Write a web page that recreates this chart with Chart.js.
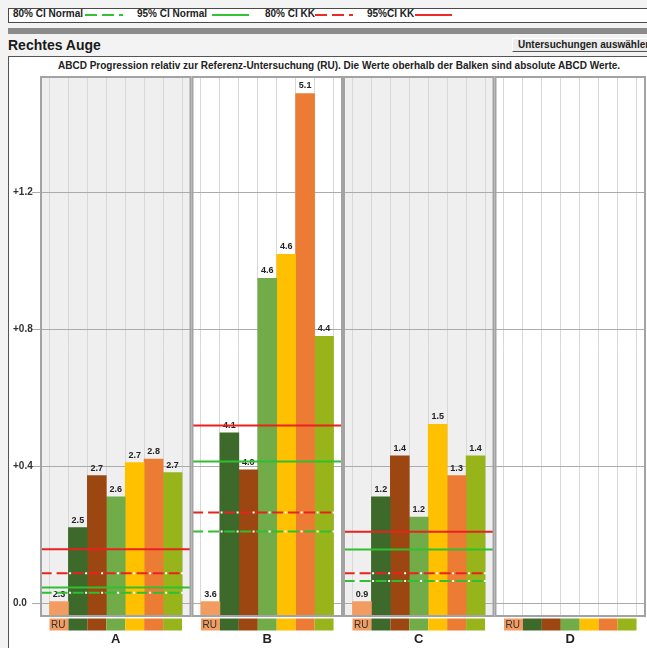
<!DOCTYPE html>
<html>
<head>
<meta charset="utf-8">
<title>Rechtes Auge</title>
<script src="https://cdn.jsdelivr.net/npm/chart.js@4.4.1/dist/chart.umd.min.js"></script>
<style>
  body { margin: 0; width: 647px; height: 648px; overflow: hidden; position: relative;
         background: #f3f3f3; font-family: 'Liberation Sans', Arial, sans-serif; color: #1a1a1a; }
  .abs { position: absolute; }
  #legendBox { left: 8px; top: 8px; width: 700px; height: 13px; border: 1px solid #4a4a4a; border-right: none; background: #fff; }
  .lg { position: absolute; top: 9px; font-size: 10px; font-weight: bold; line-height: 10px; white-space: nowrap; color: #222; }
  .lgLine { position: absolute; top: 13px; }
  #band { left: 8px; top: 28px; width: 639px; height: 6px; background: #8b8b8b; }
  #title { left: 8px; top: 38px; font-size: 14px; font-weight: bold; line-height: 14px; }
  #btn { left: 512px; top: 38px; width: 150px; height: 12px; background: #ececec; border-top: 1px solid #fff;
         border-left: 1px solid #fff; border-bottom: 1px solid #555; font-size: 10px; font-weight: bold; line-height: 12px;
         padding-left: 5px; white-space: nowrap; color: #222; }
  #frame { left: 8px; top: 56px; width: 660px; height: 620px; border-top: 1px solid #555; border-left: 1px solid #555; background: #fff; }
  #subtitle { left: 58px; top: 61px; font-size: 10px; font-weight: bold; line-height: 10px; white-space: nowrap; color: #222; }
  #chartBox { left: 9px; top: 72px; width: 638px; height: 576px; }
</style>
</head>
<body>
<div id="legendBox" class="abs"></div>
<span class="lg" style="left:13px">80% CI Normal</span>
<svg class="lgLine" style="left:85px" width="38" height="4"><line x1="0" y1="2" x2="38" y2="2" stroke="#33c433" stroke-width="2" stroke-dasharray="12 5"/></svg>
<span class="lg" style="left:137px">95% CI Normal</span>
<svg class="lgLine" style="left:212px" width="37" height="4"><line x1="0" y1="2" x2="37" y2="2" stroke="#33c433" stroke-width="2"/></svg>
<span class="lg" style="left:265px">80% CI KK</span>
<svg class="lgLine" style="left:315px" width="38" height="4"><line x1="0" y1="2" x2="38" y2="2" stroke="#ee2a24" stroke-width="2" stroke-dasharray="12 5"/></svg>
<span class="lg" style="left:367px">95%CI KK</span>
<svg class="lgLine" style="left:415px" width="37" height="4"><line x1="0" y1="2" x2="37" y2="2" stroke="#ee2a24" stroke-width="2"/></svg>

<div id="band" class="abs"></div>
<div id="title" class="abs">Rechtes Auge</div>
<div id="btn" class="abs">Untersuchungen auswählen</div>
<div id="frame" class="abs"></div>
<div id="subtitle" class="abs">ABCD Progression relativ zur Referenz-Untersuchung (RU). Die Werte oberhalb der Balken sind absolute ABCD Werte.</div>
<div id="chartBox" class="abs"><canvas id="abcdChart" width="638" height="576"></canvas></div>

<script>
// Kategorien (Panels)
const categories = ['A', 'B', 'C', 'D'];
const seriesLabels = ['RU', 'U1', 'U2', 'U3', 'U4', 'U5', 'U6'];
const seriesColors = ['#f29c62', '#3d6a2b', '#9c4712', '#71ac48', '#ffc000', '#ec7c34', '#97b41b'];

// Progression relativ zur RU (Balkenhöhe)
const ruValues = [0.005, 0.005, 0.005, null];
const u1Values = [0.221, 0.498, 0.311, null];
const u2Values = [0.373, 0.390, 0.431, null];
const u3Values = [0.311, 0.949, 0.252, null];
const u4Values = [0.411, 1.019, 0.523, null];
const u5Values = [0.421, 1.489, 0.373, null];
const u6Values = [0.382, 0.780, 0.431, null];

// absolute ABCD Werte (über den Balken)
const ruAbsolute = ['2.3', '3.6', '0.9', null];
const u1Absolute = ['2.5', '4.1', '1.2', null];
const u2Absolute = ['2.7', '4.0', '1.4', null];
const u3Absolute = ['2.6', '4.6', '1.2', null];
const u4Absolute = ['2.7', '4.6', '1.5', null];
const u5Absolute = ['2.8', '5.1', '1.3', null];
const u6Absolute = ['2.7', '4.4', '1.4', null];

// Konfidenzintervalle je Panel
const ci80Normal = [0.031, 0.210, 0.065, null];
const ci95Normal = [0.046, 0.414, 0.157, null];
const ci80KK = [0.088, 0.265, 0.088, null];
const ci95KK = [0.158, 0.519, 0.209, null];

// Achse
const yTicks = [0, 0.4, 0.8, 1.2];
const yMin = -0.04;
const yMax = 1.54;

const barValues = [ruValues, u1Values, u2Values, u3Values, u4Values, u5Values, u6Values];
const absLabels = [ruAbsolute, u1Absolute, u2Absolute, u3Absolute, u4Absolute, u5Absolute, u6Absolute];
const panelFills = ['#efefef', '#ffffff', '#efefef', '#ffffff'];
const groupPct = 0.875;
const slot = groupPct / seriesLabels.length;
const margin = (1 - groupPct) / 2;

const green = '#2fbf2f';
const red = '#e8231f';

Chart.defaults.font.family = "'Liberation Sans', Arial, sans-serif";

// Balken: Panel j, Serie i -> Position j + margin + slot*(i+0.5) auf der linearen Achse
const barDatasets = barValues.map((vals, i) => ({
    type: 'bar',
    label: seriesLabels[i],
    xAxisID: 'xl',
    data: vals.map((v, j) => ({ x: j + margin + slot * (i + 0.5), y: v })),
    backgroundColor: seriesColors[i],
    base: yMin,
    grouped: false,
    categoryPercentage: 1,
    barPercentage: 1,
    order: 1
}));

// horizontale CI-Linien pro Panel
const ciPoints = (vals, end) => {
    const pts = [];
    vals.forEach((v, j) => {
        if (v === null) return;
        pts.push({x: j + 0.004, y: v}, {x: j + end, y: v}, {x: j + end + 0.001, y: null});
    });
    return pts;
};

const ciLine = (label, vals, color, dash, end, offset) => ({
    type: 'line',
    label: label,
    xAxisID: 'xc',
    data: ciPoints(vals, end),
    borderColor: color,
    borderWidth: 2,
    borderDash: dash,
    borderDashOffset: offset || 0,
    pointRadius: 0,
    fill: false,
    spanGaps: false,
    order: 0
});

const lineDatasets = [
    ciLine('95%CI KK', ci95KK, red, [], 0.995),
    ciLine('95% CI Normal', ci95Normal, green, [], 0.995),
    ciLine('80% CI KK', ci80KK, red, [11, 5], 0.95),
    ciLine('', ci80KK, '#ffffff', [2, 14], 0.95, 3.5),
    ciLine('80% CI Normal', ci80Normal, green, [11, 5], 0.95),
    ciLine('', ci80Normal, '#ffffff', [2, 14], 0.95, 3.5)
];

// Hintergrund, Rahmen und Farbfelder der Panels
const panelBackground = {
    id: 'panelBackground',
    beforeDraw(chart) {
        const {ctx, chartArea} = chart;
        const xc = chart.scales.xc;
        ctx.save();
        categories.forEach((c, j) => {
            const x0 = xc.getPixelForValue(j);
            const x1 = xc.getPixelForValue(j + 1);
            ctx.fillStyle = panelFills[j];
            ctx.fillRect(x0, chartArea.top, x1 - x0, chartArea.bottom - chartArea.top);
        });
        ctx.restore();
    },
    afterDatasetsDraw(chart) {
        const {ctx, chartArea} = chart;
        const xc = chart.scales.xc;
        ctx.save();
        ctx.strokeStyle = '#a3a3a3';
        ctx.lineWidth = 2;
        categories.forEach((c, j) => {
            const x0 = xc.getPixelForValue(j);
            const x1 = xc.getPixelForValue(j + 1);
            ctx.strokeRect(x0 + 1, chartArea.top + 1, x1 - x0 - 2, chartArea.bottom - chartArea.top - 2);
        });
        ctx.restore();
    },
    afterDraw(chart) {
        const {ctx, chartArea} = chart;
        const xc = chart.scales.xc;
        ctx.save();
        categories.forEach((c, j) => {
            seriesColors.forEach((col, i) => {
                const x0 = xc.getPixelForValue(j + margin + slot * i);
                const x1 = xc.getPixelForValue(j + margin + slot * (i + 1));
                ctx.fillStyle = col;
                ctx.fillRect(x0, chartArea.bottom + 1.5, x1 - x0, 12);
                if (i === 0) {
                    ctx.fillStyle = '#333';
                    ctx.font = "10px 'Liberation Sans', Arial, sans-serif";
                    ctx.textBaseline = 'middle';
                    ctx.textAlign = 'left';
                    ctx.fillText(seriesLabels[0], x0 + 1.5, chartArea.bottom + 8);
                }
            });
        });
        ctx.restore();
    }
};

// Werte über den Balken
const valueLabels = {
    id: 'valueLabels',
    afterDatasetDraw(chart, args) {
        if (args.meta.type !== 'bar') return;
        const labels = absLabels[args.index];
        const ctx = chart.ctx;
        ctx.save();
        ctx.font = "bold 9px 'Liberation Sans', Arial, sans-serif";
        ctx.fillStyle = '#222';
        ctx.textAlign = 'center';
        ctx.textBaseline = 'alphabetic';
        args.meta.data.forEach((el, j) => {
            if (labels[j] === null || barValues[args.index][j] === null) return;
            ctx.fillText(labels[j], el.x, el.y - 5);
        });
        ctx.restore();
    }
};

new Chart(document.getElementById('abcdChart'), {
    type: 'bar',
    data: {
        labels: categories,
        datasets: [...barDatasets, ...lineDatasets]
    },
    options: {
        responsive: false,
        animation: false,
        devicePixelRatio: 1,
        layout: { padding: { left: 4, top: 4, right: 1, bottom: 0 } },
        plugins: { legend: { display: false }, tooltip: { enabled: false } },
        scales: {
            x: {
                type: 'category',
                offset: true,
                grid: { display: false, drawTicks: false },
                border: { display: false },
                ticks: { font: { size: 13, weight: 'bold' }, color: '#222', padding: 15 },
                afterFit: s => { s.height = 31; s.paddingLeft = 0; s.paddingRight = 0; }
            },
            xl: {
                type: 'linear',
                position: 'top',
                min: 0,
                max: 4,
                offset: false,
                grid: { color: '#d8d8d8', drawTicks: false, offset: false },
                border: { display: false },
                ticks: { display: false },
                afterBuildTicks: s => {
                    const t = [];
                    categories.forEach((c, j) => {
                        for (let k = 0; k <= seriesLabels.length; k++) t.push({ value: j + margin + slot * k });
                    });
                    s.ticks = t;
                },
                afterFit: s => { s.height = 0; s.paddingLeft = 0; s.paddingRight = 0; }
            },
            xc: {
                type: 'linear',
                display: false,
                min: 0,
                max: 4,
                offset: false,
                grid: { offset: false }
            },
            y: {
                min: yMin,
                max: yMax,
                grid: { color: '#ababab', tickLength: 8 },
                border: { display: false },
                ticks: {
                    crossAlign: 'far',
                    font: { size: 10, weight: 'bold' },
                    color: '#333',
                    callback: v => v === 0 ? '0.0' : '+' + v.toFixed(1)
                },
                afterBuildTicks: s => { s.ticks = yTicks.map(v => ({ value: v })); },
                afterFit: s => { s.width = 27; s.paddingTop = 0; s.paddingBottom = 0; }
            }
        }
    },
    plugins: [panelBackground, valueLabels]
});
</script>
</body>
</html>
